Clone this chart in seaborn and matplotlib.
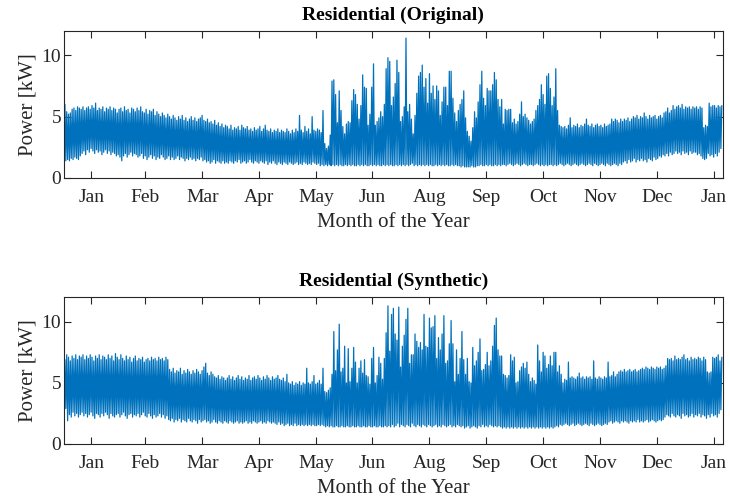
import numpy as np
import pandas as pd
import matplotlib
matplotlib.use("Agg")
import matplotlib.pyplot as plt
import seaborn as sns

# ---------------- data (daily peak / trough, kW) ----------------
months = ["Jan", "Feb", "Mar", "Apr", "May", "Jun", "Aug", "Sep", "Oct", "Nov", "Dec", "Jan"]
month_tick_days = [15.1, 45.1, 76.6, 108.2, 139.6, 170.8, 202.4, 234.0, 265.4, 297.0, 328.6, 360.0]

orig_hi = [
    6.0, 5.4, 5.2, 5.3, 5.6, 5.7, 5.5, 5.8, 5.7, 5.6,
    5.8, 5.5, 5.7, 5.8, 5.6, 5.9, 5.7, 6.1, 5.5, 5.7,
    5.6, 5.8, 5.4, 5.7, 5.6, 5.8, 5.5, 5.7, 5.6, 5.3,
    5.6, 5.7, 5.4, 5.8, 5.5, 5.6, 5.3, 5.7, 5.6, 5.4,
    5.7, 5.5, 5.8, 5.4, 5.3, 5.6, 5.2, 5.5, 5.4, 5.6,
    5.1, 5.4, 5.2, 5.0, 5.3, 5.1, 4.9, 5.2, 5.0, 4.8,
    5.1, 4.9, 4.7, 5.0, 4.8, 5.1, 4.7, 4.9, 4.6, 4.8,
    5.0, 4.7, 4.9, 4.6, 4.8, 4.9, 5.1, 4.7, 4.6, 4.8,
    4.5, 4.6, 4.4, 4.7, 4.3, 4.5, 4.2, 4.4, 4.1, 4.3,
    4.2, 4.0, 4.3, 3.9, 4.1, 4.0, 4.2, 3.9, 4.3, 4.1,
    4.0, 4.2, 3.9, 4.0, 3.8, 4.1, 3.9, 4.0, 4.2, 3.8,
    4.0, 4.3, 3.9, 3.8, 4.0, 3.7, 3.9, 3.8, 4.0, 3.7,
    3.9, 3.8, 3.7, 4.0, 3.8, 3.6, 3.9, 3.7, 4.0, 3.8,
    5.1, 3.9, 3.7, 4.2, 3.8, 4.0, 3.6, 5.0, 3.9, 3.8,
    4.0, 3.9, 3.7, 5.5, 2.8, 2.4, 2.6, 3.5, 7.9, 8.0,
    6.8, 4.5, 7.1, 5.5, 4.2, 3.6, 4.4, 4.6, 4.5, 6.3,
    7.2, 6.8, 6.0, 4.8, 5.9, 8.4, 7.4, 7.3, 4.3, 5.2,
    7.4, 9.3, 4.3, 4.6, 4.9, 5.4, 5.0, 6.0, 8.9, 9.8,
    9.5, 5.9, 6.6, 7.7, 9.6, 8.6, 4.6, 5.0, 5.8, 11.4,
    5.4, 6.0, 4.8, 3.6, 5.1, 6.9, 8.3, 8.6, 9.2, 7.4,
    8.1, 6.1, 8.5, 6.9, 7.5, 6.4, 7.5, 7.1, 5.1, 6.2,
    7.4, 7.4, 5.9, 8.7, 8.7, 6.5, 5.3, 4.6, 5.5, 6.0,
    6.4, 7.1, 4.9, 3.8, 3.4, 3.0, 4.1, 5.4, 4.9, 6.2,
    7.6, 8.7, 6.5, 5.9, 7.3, 7.1, 7.1, 7.6, 8.6, 8.0,
    6.4, 5.8, 6.4, 4.4, 5.6, 5.5, 5.6, 5.6, 4.5, 4.8,
    4.4, 4.6, 5.2, 6.2, 5.0, 5.2, 4.9, 4.7, 4.4, 4.6,
    4.8, 5.5, 5.9, 6.4, 7.6, 6.8, 6.0, 8.3, 8.5, 7.3,
    5.9, 6.6, 8.9, 5.5, 4.3, 4.2, 4.1, 4.2, 4.0, 4.3,
    4.9, 4.1, 4.3, 4.2, 4.4, 4.1, 4.3, 4.2, 4.4, 4.8,
    4.3, 4.2, 4.4, 4.1, 4.3, 4.4, 4.2, 4.3, 4.1, 4.4,
    4.2, 4.3, 4.4, 4.8, 4.6, 4.8, 4.7, 4.5, 4.8, 4.6,
    4.8, 4.7, 4.9, 4.6, 4.8, 5.0, 4.9, 5.1, 4.8, 5.0,
    4.9, 5.3, 5.0, 4.8, 5.1, 4.9, 5.0, 5.1, 4.8, 5.0,
    5.1, 4.9, 5.3, 5.4, 5.7, 5.3, 5.5, 5.9, 5.6, 5.8,
    5.9, 5.7, 6.0, 5.6, 5.8, 5.7, 5.8, 5.6, 5.8, 5.7,
    5.8, 5.6, 5.8, 5.7, 4.1, 4.3, 4.2, 6.1, 5.8, 5.9,
    5.9, 5.7, 5.9, 5.8, 5.9,
]

orig_lo = [
    1.6, 1.4, 1.5, 1.4, 1.6, 1.5, 1.7, 1.6, 1.5, 1.8,
    2.0, 2.2, 1.9, 2.3, 2.1, 2.4, 2.2, 2.0, 2.3, 2.1,
    2.2, 1.9, 2.1, 2.3, 2.0, 2.2, 1.9, 2.1, 2.0, 1.8,
    1.9, 1.7, 1.4, 1.8, 2.0, 1.7, 1.9, 2.1, 1.8, 2.0,
    1.9, 1.7, 1.8, 2.0, 1.6, 1.8, 1.5, 1.7, 1.9, 1.6,
    1.8, 1.5, 1.7, 1.6, 1.9, 1.7, 1.5, 1.6, 1.8, 1.5,
    1.7, 1.5, 1.6, 1.8, 1.5, 1.7, 1.6, 1.4, 1.6, 1.5,
    1.7, 1.5, 1.6, 1.4, 1.6, 1.5, 1.7, 1.4, 1.5, 1.3,
    1.4, 1.2, 1.3, 1.5, 1.2, 1.4, 1.3, 1.2, 1.4, 1.2,
    1.3, 1.2, 1.4, 1.3, 1.2, 1.4, 1.3, 1.5, 1.2, 1.3,
    1.4, 1.2, 1.3, 1.5, 1.3, 1.2, 1.4, 1.3, 1.2, 1.4,
    1.3, 1.2, 1.4, 1.1, 1.3, 1.2, 1.4, 1.2, 1.1, 1.3,
    1.2, 1.1, 1.3, 1.2, 1.1, 1.3, 1.2, 1.1, 1.2, 1.3,
    1.1, 1.2, 1.1, 1.3, 1.2, 1.1, 1.2, 1.1, 1.3, 1.2,
    1.1, 1.2, 1.0, 1.1, 1.0, 1.1, 1.0, 1.1, 1.0, 1.1,
    1.0, 1.1, 1.0, 1.1, 1.0, 1.0, 1.1, 1.0, 1.1, 1.0,
    1.1, 1.0, 1.0, 1.1, 1.0, 1.1, 1.0, 1.1, 1.0, 1.0,
    1.1, 1.0, 1.1, 1.0, 1.1, 1.0, 1.0, 1.1, 1.0, 1.1,
    1.0, 1.1, 1.0, 1.0, 1.1, 1.0, 1.1, 1.0, 1.1, 1.0,
    1.1, 1.0, 1.1, 1.2, 1.0, 1.1, 1.0, 1.1, 1.0, 1.1,
    1.0, 1.1, 1.0, 1.1, 1.0, 1.0, 1.1, 1.0, 1.1, 1.0,
    1.1, 1.0, 1.1, 1.0, 1.0, 1.1, 1.0, 1.1, 1.0, 1.0,
    0.9, 1.0, 0.9, 0.9, 0.9, 0.9, 1.0, 0.9, 0.9, 1.0,
    1.0, 1.1, 1.0, 1.0, 1.1, 1.0, 1.1, 1.0, 1.0, 1.1,
    1.0, 1.1, 1.0, 1.1, 1.1, 1.0, 1.1, 1.2, 1.1, 1.0,
    1.1, 1.2, 1.1, 1.0, 1.1, 1.2, 1.1, 1.0, 1.1, 1.1,
    1.0, 1.1, 1.2, 1.1, 1.0, 1.1, 1.0, 1.1, 1.0, 1.1,
    1.1, 1.0, 1.1, 1.0, 1.1, 1.2, 1.1, 1.0, 1.1, 1.2,
    1.1, 1.0, 1.1, 1.2, 1.1, 1.0, 1.1, 1.2, 1.1, 1.0,
    1.1, 1.2, 1.1, 1.0, 1.2, 1.1, 1.0, 1.1, 1.2, 1.1,
    1.0, 1.2, 1.1, 1.0, 1.1, 1.2, 1.1, 1.0, 1.2, 1.1,
    1.3, 1.4, 1.2, 1.5, 1.3, 1.4, 1.6, 1.3, 1.5, 1.4,
    1.6, 1.4, 1.5, 1.3, 1.6, 1.5, 1.4, 1.7, 1.5, 1.6,
    1.8, 1.7, 1.9, 1.8, 2.0, 1.8, 2.1, 1.9, 2.0, 2.2,
    2.0, 2.1, 1.9, 2.2, 2.0, 2.1, 1.9, 2.2, 2.0, 2.1,
    2.1, 1.9, 2.0, 1.8, 1.6, 1.5, 1.6, 2.0, 1.8, 1.9,
    1.7, 2.0, 1.8, 2.1, 2.4,
]

syn_hi = [
    6.9, 7.3, 7.1, 6.8, 7.2, 7.0, 7.3, 6.9, 7.2, 7.1,
    7.3, 6.9, 7.2, 7.0, 7.3, 7.1, 6.8, 7.2, 7.0, 7.3,
    6.9, 7.2, 7.1, 6.9, 7.3, 7.0, 7.2, 6.8, 7.4, 7.1,
    6.9, 7.3, 7.0, 6.8, 7.2, 6.9, 7.1, 6.7, 7.0, 7.2,
    6.8, 7.0, 6.9, 7.1, 6.7, 6.9, 7.0, 6.8, 7.1, 6.9,
    7.0, 6.8, 7.1, 6.9, 7.0, 6.8, 7.1, 6.9, 6.1, 5.9,
    6.2, 5.8, 6.0, 5.9, 6.2, 5.7, 6.0, 5.8, 6.1, 5.9,
    5.7, 6.0, 5.8, 6.1, 5.9, 5.7, 6.0, 6.3, 6.6, 5.8,
    5.6, 5.9, 5.7, 5.5, 5.4, 5.6, 5.3, 5.5, 5.4, 5.2,
    5.4, 5.6, 5.3, 5.5, 5.2, 5.4, 5.6, 5.3, 5.5, 5.2,
    5.4, 5.3, 5.6, 5.2, 5.4, 5.5, 5.3, 5.6, 5.4, 5.2,
    5.5, 5.3, 5.6, 5.4, 5.2, 5.5, 5.3, 5.4, 5.6, 5.3,
    5.2, 5.4, 5.1, 5.7, 5.0, 4.9, 5.1, 4.8, 5.0, 4.9,
    5.1, 4.8, 5.0, 4.9, 6.2, 5.0, 4.9, 5.1, 5.6, 4.9,
    5.0, 5.2, 4.9, 6.2, 4.3, 4.2, 4.4, 4.6, 5.7, 9.2,
    6.0, 7.7, 9.8, 5.9, 6.2, 8.0, 5.0, 7.8, 5.1, 6.2,
    7.9, 6.7, 5.0, 6.2, 6.8, 5.8, 6.9, 5.6, 5.5, 4.9,
    7.0, 7.9, 5.0, 5.6, 7.1, 6.6, 5.3, 7.0, 9.1, 11.3,
    7.6, 10.6, 11.1, 9.0, 8.5, 11.2, 6.3, 8.0, 8.9, 10.2,
    11.1, 6.6, 7.3, 7.3, 9.0, 8.4, 7.9, 8.3, 7.7, 10.6,
    8.0, 7.9, 10.3, 9.5, 9.6, 10.5, 7.0, 8.7, 7.7, 9.0,
    10.5, 6.6, 6.8, 8.2, 10.1, 8.2, 5.1, 7.7, 5.7, 7.0,
    9.2, 6.9, 5.7, 7.0, 5.1, 5.0, 7.9, 6.4, 6.8, 7.5,
    8.6, 6.0, 6.1, 6.5, 7.5, 6.4, 6.8, 8.0, 9.7, 10.3,
    7.7, 7.2, 7.2, 5.7, 5.6, 5.4, 5.6, 7.3, 6.8, 7.1,
    5.0, 5.1, 6.0, 6.3, 6.6, 6.2, 6.7, 5.7, 5.1, 5.4,
    5.2, 4.9, 8.1, 6.8, 5.9, 7.5, 7.2, 6.2, 6.5, 7.2,
    6.4, 7.5, 7.5, 5.9, 6.4, 5.7, 5.0, 5.3, 5.2, 6.7,
    5.4, 5.5, 5.4, 5.3, 5.5, 5.8, 5.4, 5.5, 5.3, 5.5,
    5.4, 5.5, 5.3, 6.8, 5.4, 5.3, 5.5, 5.4, 5.3, 5.5,
    5.4, 6.7, 5.5, 5.6, 5.9, 5.5, 5.7, 5.9, 6.0, 5.9,
    6.1, 5.9, 6.0, 6.1, 5.9, 6.0, 6.1, 5.9, 6.0, 6.1,
    6.2, 6.1, 6.3, 6.2, 6.1, 6.3, 6.2, 6.1, 6.3, 6.2,
    6.3, 6.1, 6.2, 6.4, 7.0, 6.9, 7.0, 6.8, 7.2, 6.9,
    7.0, 6.9, 7.1, 7.3, 6.9, 7.0, 6.8, 7.1, 6.9, 7.0,
    6.9, 7.1, 7.0, 6.8, 7.1, 6.9, 5.9, 5.8, 5.9, 7.1,
    7.0, 7.1, 7.3, 6.8, 7.1,
]

syn_lo = [
    3.0, 2.9, 1.9, 2.4, 2.2, 2.6, 2.3, 2.5, 2.2, 2.4,
    2.6, 2.3, 2.5, 2.2, 2.4, 2.6, 2.3, 2.1, 2.5, 2.4,
    2.2, 2.5, 2.3, 2.6, 2.4, 2.1, 2.5, 2.3, 2.2, 2.4,
    2.5, 2.2, 2.4, 2.6, 2.3, 2.1, 2.4, 2.5, 2.2, 2.4,
    2.3, 2.5, 2.2, 2.4, 2.6, 2.3, 2.2, 2.5, 2.3, 2.1,
    2.4, 2.2, 2.3, 2.5, 2.2, 2.4, 2.1, 2.3, 2.0, 1.9,
    2.1, 1.8, 2.0, 1.9, 2.1, 1.8, 2.0, 1.9, 1.8, 2.1,
    1.9, 1.8, 2.0, 1.9, 1.7, 2.0, 1.8, 1.9, 2.0, 1.8,
    1.9, 1.7, 1.8, 2.0, 1.8, 1.7, 1.9, 1.8, 1.7, 1.9,
    1.8, 1.7, 1.9, 1.8, 1.7, 1.8, 1.9, 1.7, 1.8, 1.7,
    1.8, 1.9, 1.7, 1.8, 1.7, 1.9, 1.8, 1.7, 1.8, 1.9,
    1.7, 1.8, 1.7, 1.9, 1.8, 1.7, 1.8, 1.7, 1.6, 1.8,
    1.6, 1.7, 1.5, 1.6, 1.7, 1.5, 1.6, 1.5, 1.7, 1.5,
    1.6, 1.5, 1.6, 1.5, 1.6, 1.5, 1.6, 1.5, 1.6, 1.5,
    1.5, 1.6, 1.5, 1.6, 1.5, 1.4, 1.5, 1.4, 1.5, 1.4,
    1.4, 1.5, 1.4, 1.4, 1.5, 1.4, 1.4, 1.5, 1.4, 1.4,
    1.5, 1.4, 1.4, 1.5, 1.4, 1.4, 1.5, 1.4, 1.4, 1.5,
    1.4, 1.4, 1.5, 1.4, 1.4, 1.5, 1.4, 1.4, 1.5, 1.4,
    1.5, 1.4, 1.6, 1.4, 1.5, 1.7, 1.4, 1.6, 1.5, 1.4,
    1.6, 1.5, 1.4, 1.7, 1.5, 1.4, 1.6, 1.5, 1.4, 1.6,
    1.5, 1.4, 1.6, 1.5, 1.4, 1.5, 1.6, 1.4, 1.5, 1.4,
    1.6, 1.5, 1.4, 1.5, 1.6, 1.4, 1.5, 1.4, 1.6, 1.5,
    1.4, 1.5, 1.3, 1.4, 1.5, 1.3, 1.4, 1.5, 1.4, 1.3,
    1.5, 1.4, 1.6, 1.4, 1.5, 1.4, 1.6, 1.5, 1.4, 1.5,
    1.4, 1.5, 1.4, 1.3, 1.4, 1.3, 1.4, 1.3, 1.4, 1.3,
    1.4, 1.3, 1.4, 1.3, 1.4, 1.3, 1.4, 1.3, 1.4, 1.3,
    1.4, 1.3, 1.4, 1.3, 1.4, 1.3, 1.4, 1.3, 1.4, 1.3,
    1.4, 1.3, 1.4, 1.5, 1.4, 1.6, 1.5, 1.6, 1.7, 1.6,
    1.5, 1.6, 1.7, 1.5, 1.6, 1.7, 1.6, 1.5, 1.6, 1.7,
    1.6, 1.5, 1.7, 1.6, 1.5, 1.6, 1.7, 1.6, 1.5, 1.6,
    1.7, 1.6, 1.8, 1.9, 1.7, 1.8, 1.9, 1.8, 1.7, 1.9,
    1.8, 1.9, 1.8, 1.7, 1.9, 1.8, 1.9, 1.8, 2.0, 1.8,
    1.9, 1.8, 1.9, 2.0, 1.8, 1.9, 2.0, 1.9, 1.8, 1.9,
    2.0, 1.9, 2.0, 2.2, 2.4, 2.3, 2.2, 2.5, 2.3, 2.2,
    2.4, 2.3, 2.1, 2.5, 2.3, 2.4, 2.2, 2.3, 2.5, 2.2,
    2.4, 2.3, 2.5, 2.2, 2.4, 2.3, 2.1, 2.4, 2.2, 2.5,
    2.3, 2.4, 2.2, 2.5, 2.8,
]

titles = ["Residential (Original)", "Residential (Synthetic)"]
series = [(orig_lo, orig_hi), (syn_lo, syn_hi)]

# ---------------- style ----------------
sns.set_style("ticks")
plt.rcParams["font.family"] = ["Liberation Serif", "DejaVu Serif"]

LINE_COLOR = "#0072BD"
TEXT_COLOR = "#262626"

fig = plt.figure(figsize=(7.30, 5.00), dpi=100)
ax_rects = [
    [0.0877, 0.644, 0.9023, 0.2946],
    [0.0877, 0.112, 0.9023, 0.2934],
]

for rect, title, (lo, hi) in zip(ax_rects, titles, series):
    ax = fig.add_axes(rect)
    days = np.arange(len(hi), dtype=float)
    x = np.column_stack([days, days + 0.5]).ravel()
    y = np.column_stack([np.asarray(lo), np.asarray(hi)]).ravel()
    df = pd.DataFrame({"day": x, "power": y})
    sns.lineplot(data=df, x="day", y="power", ax=ax, color=LINE_COLOR,
                 linewidth=0.9, estimator=None, sort=False)
    ax.set_xlim(0, 365)
    ax.set_ylim(0, 12)
    ax.set_xticks(month_tick_days)
    ax.set_xticklabels(months)
    ax.set_yticks([0, 5, 10])
    ax.tick_params(axis="both", which="both", direction="in", length=5,
                   width=0.8, top=True, right=True, labelsize=14,
                   colors=TEXT_COLOR)
    ax.tick_params(axis="x", pad=8)
    ax.tick_params(axis="y", pad=2)
    for sp in ax.spines.values():
        sp.set_visible(True)
        sp.set_linewidth(0.8)
        sp.set_color("#262626")
    ax.set_xlabel("Month of the Year", fontsize=15, color=TEXT_COLOR, labelpad=5)
    ax.set_ylabel("Power [kW]", fontsize=15, color=TEXT_COLOR, labelpad=3)
    ax.set_title(title, fontsize=14, fontweight="bold", color="black", pad=8)

fig.savefig("out.png", dpi=100)
